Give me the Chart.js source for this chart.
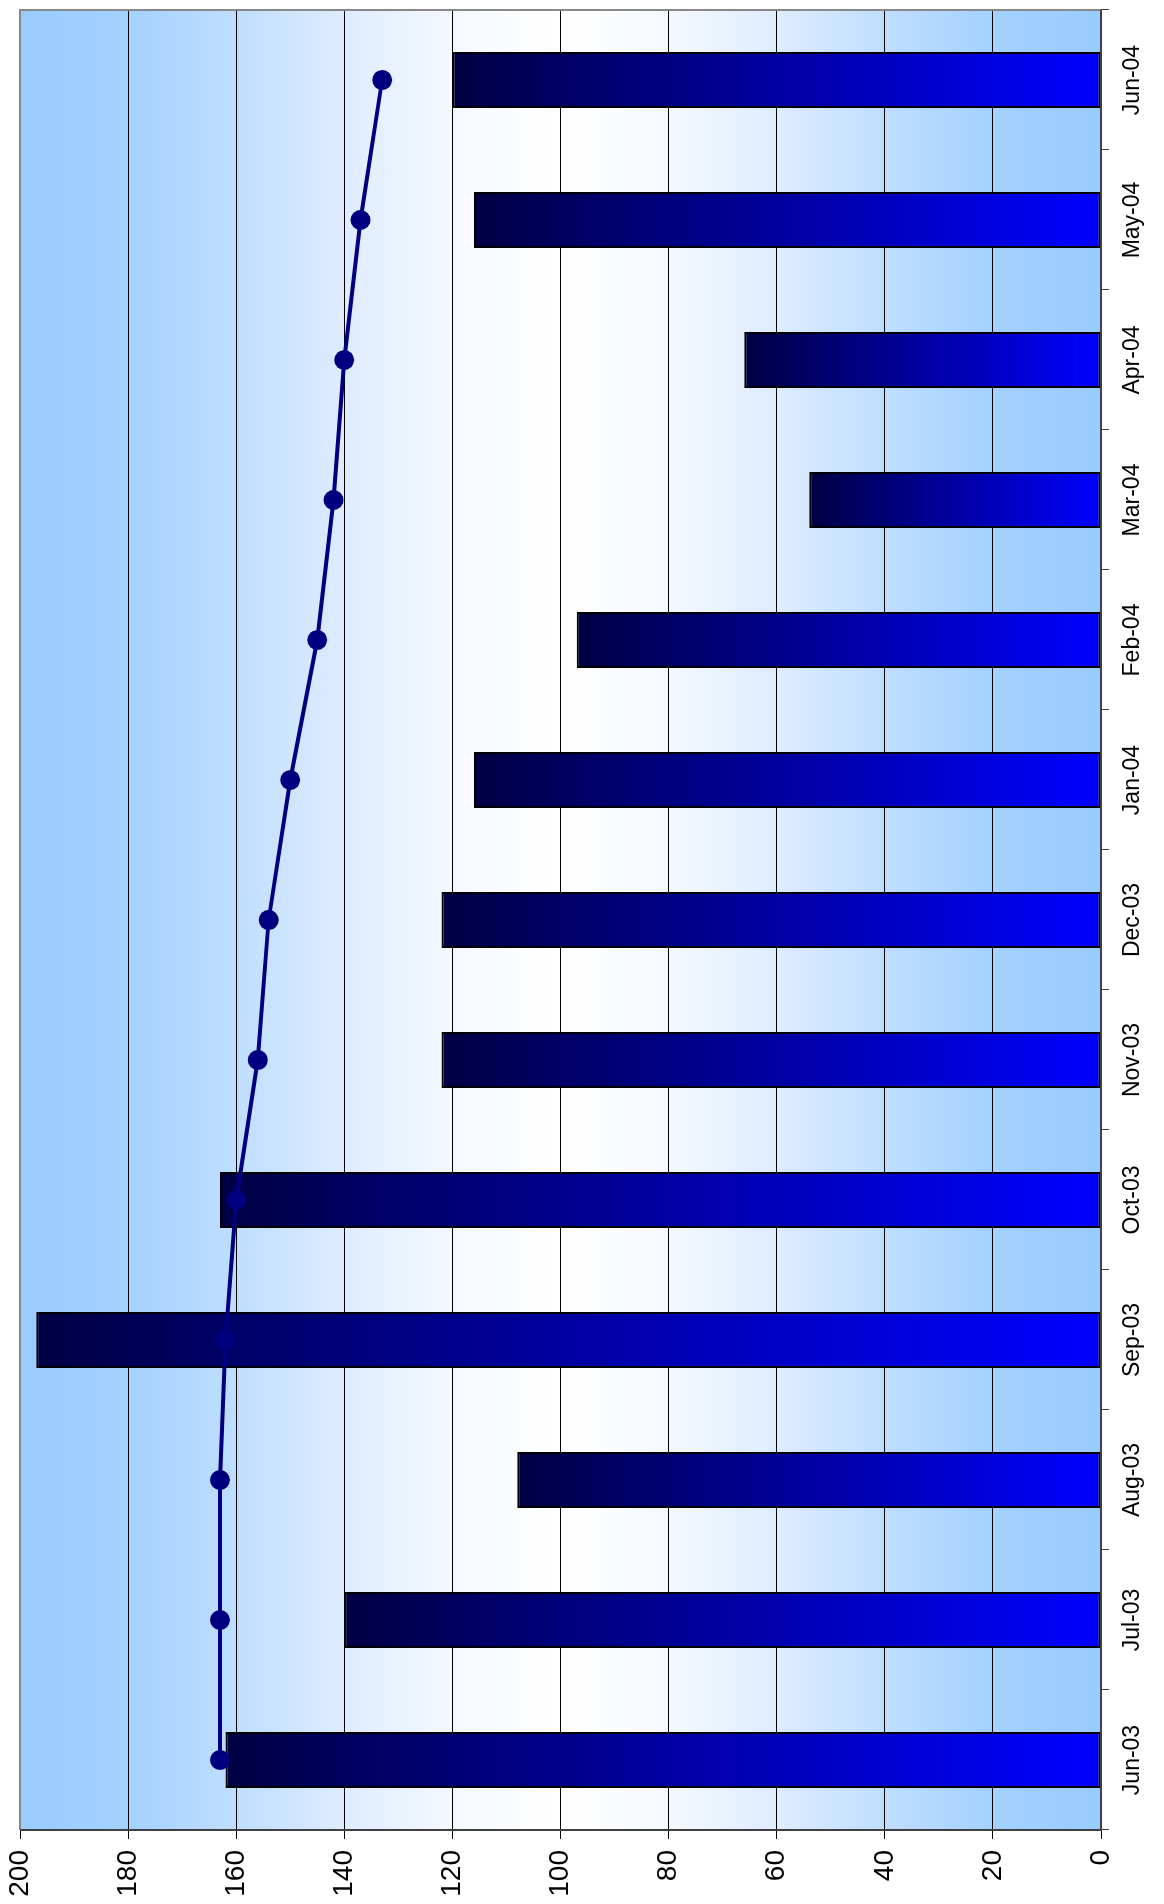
<!DOCTYPE html>
<html>
<head>
<meta charset="utf-8">
<script src="https://cdn.jsdelivr.net/npm/chart.js@4.4.1/dist/chart.umd.min.js"></script>
<style>
  html, body { margin: 0; padding: 0; background: #fff; overflow: hidden; }
  #wrap {
    position: absolute; left: 0; top: 0;
    width: 1904px; height: 1164px;
    transform-origin: 0 0;
    transform: translate(0, 1904px) rotate(-90deg);
  }
</style>
</head>
<body>
<div id="wrap"><canvas id="chart" width="1904" height="1164"></canvas></div>
<script>
// Data
const months = ["Jun-03", "Jul-03", "Aug-03", "Sep-03", "Oct-03", "Nov-03", "Dec-03",
                "Jan-04", "Feb-04", "Mar-04", "Apr-04", "May-04", "Jun-04"];
const barValues = [162, 140, 108, 197, 163, 122, 122, 116, 97, 54, 66, 116, 120];
const lineValues = [163, 163, 163, 162, 160, 156, 154, 150, 145, 142, 140, 137, 133];
const valueTicks = [0, 20, 40, 60, 80, 100, 120, 140, 160, 180, 200];

// plot background: blue at both edges, white in the middle
const plotBg = {
  id: "plotBg",
  beforeDraw(chart) {
    const { ctx, chartArea: a } = chart;
    const g = ctx.createLinearGradient(0, a.top, 0, a.bottom);
    g.addColorStop(0, "#99ccff");
    g.addColorStop(0.1, "#a4d1ff");
    g.addColorStop(0.2, "#bfdeff");
    g.addColorStop(0.3, "#deecff");
    g.addColorStop(0.4, "#f5f9ff");
    g.addColorStop(0.5, "#ffffff");
    g.addColorStop(0.6, "#f5f9ff");
    g.addColorStop(0.7, "#deecff");
    g.addColorStop(0.8, "#bfdeff");
    g.addColorStop(0.9, "#a4d1ff");
    g.addColorStop(1, "#99ccff");
    ctx.save();
    ctx.fillStyle = g;
    ctx.fillRect(a.left, a.top, a.right - a.left, a.bottom - a.top);
    ctx.restore();
  },
  afterDraw(chart) {
    const { ctx, chartArea: a } = chart;
    ctx.save();
    ctx.strokeStyle = "#888888";
    ctx.lineWidth = 2;
    ctx.beginPath();
    ctx.moveTo(a.left, a.top);
    ctx.lineTo(a.right, a.top);
    ctx.lineTo(a.right, a.bottom);
    ctx.stroke();
    ctx.strokeStyle = "#404040";
    ctx.beginPath();
    ctx.moveTo(a.left, a.top);
    ctx.lineTo(a.left, a.bottom);
    ctx.lineTo(a.right, a.bottom);
    ctx.stroke();
    ctx.restore();
  }
};

// each bar: dark navy at its top, bright blue at the base
const barFill = (c) => {
  const chart = c.chart;
  const y = chart.scales.y;
  if (!chart.chartArea || !y || typeof c.raw !== "number") return "#0000b0";
  const top = y.getPixelForValue(c.raw);
  const base = y.getPixelForValue(0);
  const g = chart.ctx.createLinearGradient(0, top, 0, base);
  g.addColorStop(0, "#000044");
  g.addColorStop(1, "#0000ff");
  return g;
};

new Chart(document.getElementById("chart"), {
  type: "bar",
  data: {
    labels: months,
    datasets: [
      {
        type: "line",
        data: lineValues,
        order: 1,
        borderColor: "#000080",
        borderWidth: 4,
        pointRadius: 10,
        pointBorderWidth: 0,
        pointBackgroundColor: "#000080",
        tension: 0,
        fill: false
      },
      {
        type: "bar",
        data: barValues,
        order: 2,
        backgroundColor: barFill,
        borderColor: "#000000",
        borderWidth: 2,
        borderSkipped: false,
        barPercentage: 0.4,
        categoryPercentage: 1
      }
    ]
  },
  options: {
    responsive: false,
    animation: false,
    layout: { padding: { top: 20, right: 2, left: 0, bottom: 0 } },
    plugins: { legend: { display: false }, tooltip: { enabled: false } },
    scales: {
      x: {
        offset: true,
        afterFit: (s) => { s.height = 63; s.paddingLeft = 0; s.paddingRight = 0; },
        grid: { offset: true, drawOnChartArea: false, color: "#404040", tickLength: 8 },
        border: { display: false },
        ticks: {
          color: "#000",
          padding: 10,
          maxRotation: 0,
          autoSkip: false,
          font: { family: "'Liberation Sans', Arial, sans-serif", size: 23 }
        }
      },
      y: {
        min: 0,
        max: 200,
        afterFit: (s) => { s.width = 74; s.paddingTop = 0; s.paddingBottom = 0; },
        afterBuildTicks: (s) => { s.ticks = valueTicks.map((v) => ({ value: v })); },
        grid: { color: "#000000", lineWidth: 1, tickLength: 9 },
        border: { display: false },
        ticks: {
          color: "#000",
          padding: 11,
          font: { family: "'Liberation Sans', Arial, sans-serif", size: 28 }
        }
      }
    }
  },
  plugins: [plotBg]
});
</script>
</body>
</html>
